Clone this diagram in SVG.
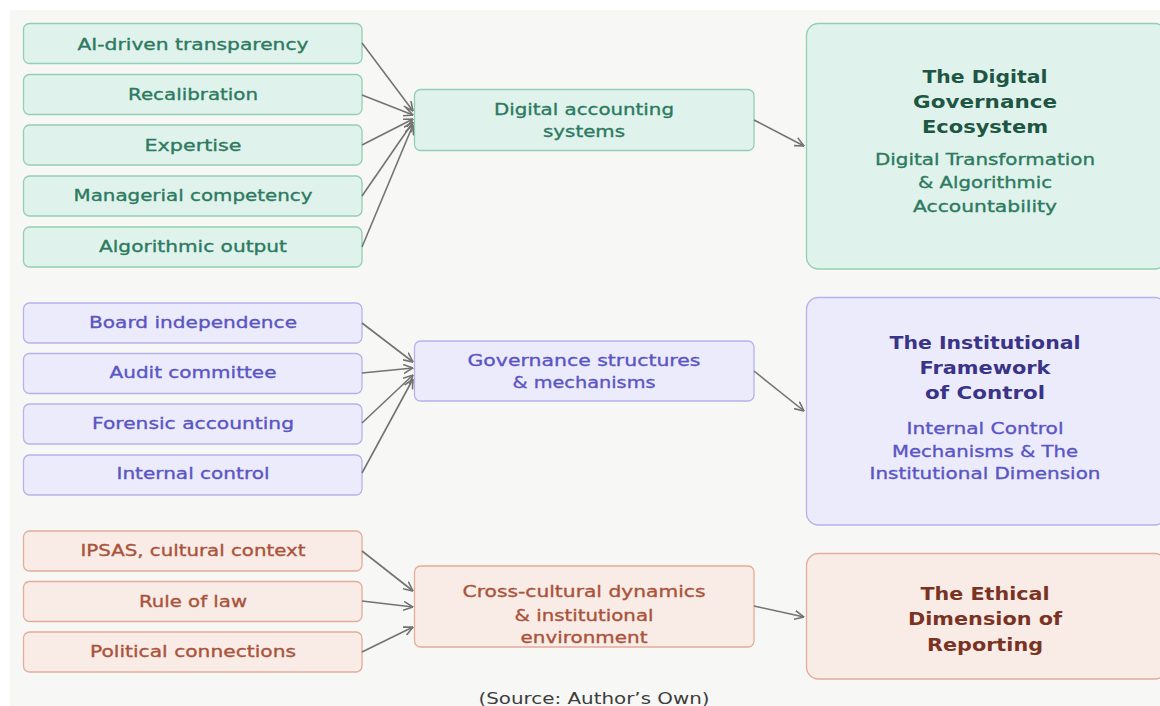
<svg xmlns="http://www.w3.org/2000/svg" width="1160" height="706" viewBox="0 0 1160 706">
<defs>
<marker id="ah" viewBox="0 0 10 10" refX="9.5" refY="5" markerWidth="10" markerHeight="10" markerUnits="userSpaceOnUse" orient="auto">
<path d="M0,0.5 L9.5,5 L0,9.5" fill="none" stroke="#737371" stroke-width="1.6"/>
</marker>
<style>
text{font-family:"DejaVu Sans","Liberation Sans",sans-serif;text-anchor:middle}
.lbl{font-size:16.5px;stroke-width:0.35}
.ttl{font-size:18px;font-weight:bold}
.sub{font-size:16.5px;stroke-width:0.35}
.g rect{fill:#e0f2ec;stroke:#93cfb7;stroke-width:1.3}
.g .lbl,.g .sub{fill:#2c7a5f;stroke:#2c7a5f}
.g .ttl{fill:#1d5643}
.p rect{fill:#ecebfb;stroke:#b5b2ee;stroke-width:1.3}
.p .lbl,.p .sub{fill:#5a55c4;stroke:#5a55c4}
.p .ttl{fill:#3a3488}
.o rect{fill:#f9ebe6;stroke:#e2ad9b;stroke-width:1.3}
.o .lbl{fill:#a9533a;stroke:#a9533a}
.o .ttl{fill:#7a3322}
.c line{stroke:#737371;stroke-width:1.6;marker-end:url(#ah)}
.src{font-size:15px;fill:#3d3d3d}
</style>
</defs>
<rect x="0" y="0" width="1160" height="706" fill="#ffffff"/>
<rect x="10" y="10" width="1150" height="696" fill="#f7f7f5"/>

<g id="green-inputs" class="g">
<g id="n-ai"><rect x="23.5" y="23.5" width="338.5" height="40" rx="6"/><text class="lbl" x="193" y="50" textLength="231" lengthAdjust="spacingAndGlyphs">AI-driven transparency</text></g>
<g id="n-recal"><rect x="23.5" y="74.5" width="338.5" height="40" rx="6"/><text class="lbl" x="193" y="100" textLength="130" lengthAdjust="spacingAndGlyphs">Recalibration</text></g>
<g id="n-expertise"><rect x="23.5" y="125" width="338.5" height="40" rx="6"/><text class="lbl" x="193" y="151" textLength="97" lengthAdjust="spacingAndGlyphs">Expertise</text></g>
<g id="n-managerial"><rect x="23.5" y="176" width="338.5" height="40" rx="6"/><text class="lbl" x="193" y="201" textLength="239" lengthAdjust="spacingAndGlyphs">Managerial competency</text></g>
<g id="n-algo"><rect x="23.5" y="227" width="338.5" height="40" rx="6"/><text class="lbl" x="193" y="252" textLength="188" lengthAdjust="spacingAndGlyphs">Algorithmic output</text></g>
</g>
<g id="n-digital-acc" class="g"><rect x="414.5" y="89.5" width="339.5" height="61" rx="6"/>
<text class="lbl" x="584" y="115" textLength="180" lengthAdjust="spacingAndGlyphs">Digital accounting</text>
<text class="lbl" x="584" y="137" textLength="82" lengthAdjust="spacingAndGlyphs">systems</text></g>
<g id="n-digital-gov" class="g"><rect x="806.5" y="23.5" width="360" height="245.5" rx="12"/>
<text class="ttl" x="985" y="83" textLength="125" lengthAdjust="spacingAndGlyphs">The Digital</text>
<text class="ttl" x="985" y="108" textLength="144" lengthAdjust="spacingAndGlyphs">Governance</text>
<text class="ttl" x="985" y="133" textLength="126" lengthAdjust="spacingAndGlyphs">Ecosystem</text>
<text class="sub" x="985" y="165" textLength="220" lengthAdjust="spacingAndGlyphs">Digital Transformation</text>
<text class="sub" x="985" y="188" textLength="134" lengthAdjust="spacingAndGlyphs">&amp; Algorithmic</text>
<text class="sub" x="985" y="212" textLength="144" lengthAdjust="spacingAndGlyphs">Accountability</text></g>

<g id="purple-inputs" class="p">
<g id="n-board"><rect x="23.5" y="303" width="338.5" height="40" rx="6"/><text class="lbl" x="193" y="328" textLength="208" lengthAdjust="spacingAndGlyphs">Board independence</text></g>
<g id="n-audit"><rect x="23.5" y="353.5" width="338.5" height="40" rx="6"/><text class="lbl" x="193" y="378" textLength="167" lengthAdjust="spacingAndGlyphs">Audit committee</text></g>
<g id="n-forensic"><rect x="23.5" y="404" width="338.5" height="40" rx="6"/><text class="lbl" x="193" y="429" textLength="202" lengthAdjust="spacingAndGlyphs">Forensic accounting</text></g>
<g id="n-internal"><rect x="23.5" y="455" width="338.5" height="40" rx="6"/><text class="lbl" x="193" y="479" textLength="153" lengthAdjust="spacingAndGlyphs">Internal control</text></g>
</g>
<g id="n-gov-struct" class="p"><rect x="414.5" y="341" width="339.5" height="60" rx="6"/>
<text class="lbl" x="584" y="366" textLength="233" lengthAdjust="spacingAndGlyphs">Governance structures</text>
<text class="lbl" x="584" y="388" textLength="143" lengthAdjust="spacingAndGlyphs">&amp; mechanisms</text></g>
<g id="n-institutional" class="p"><rect x="806.5" y="297.5" width="360" height="227.5" rx="12"/>
<text class="ttl" x="985" y="349" textLength="191" lengthAdjust="spacingAndGlyphs">The Institutional</text>
<text class="ttl" x="985" y="374" textLength="131" lengthAdjust="spacingAndGlyphs">Framework</text>
<text class="ttl" x="985" y="399" textLength="120" lengthAdjust="spacingAndGlyphs">of Control</text>
<text class="sub" x="985" y="434" textLength="157" lengthAdjust="spacingAndGlyphs">Internal Control</text>
<text class="sub" x="985" y="457" textLength="186" lengthAdjust="spacingAndGlyphs">Mechanisms &amp; The</text>
<text class="sub" x="985" y="479" textLength="231" lengthAdjust="spacingAndGlyphs">Institutional Dimension</text></g>

<g id="orange-inputs" class="o">
<g id="n-ipsas"><rect x="23.5" y="531" width="338.5" height="40" rx="6"/><text class="lbl" x="193" y="556" textLength="225" lengthAdjust="spacingAndGlyphs">IPSAS, cultural context</text></g>
<g id="n-rule"><rect x="23.5" y="581.5" width="338.5" height="40" rx="6"/><text class="lbl" x="193" y="607" textLength="108" lengthAdjust="spacingAndGlyphs">Rule of law</text></g>
<g id="n-political"><rect x="23.5" y="632" width="338.5" height="40" rx="6"/><text class="lbl" x="193" y="657" textLength="206" lengthAdjust="spacingAndGlyphs">Political connections</text></g>
</g>
<g id="n-crosscult" class="o"><rect x="414.5" y="566" width="339.5" height="81" rx="6"/>
<text class="lbl" x="584" y="597" textLength="243" lengthAdjust="spacingAndGlyphs">Cross-cultural dynamics</text>
<text class="lbl" x="584" y="621" textLength="139" lengthAdjust="spacingAndGlyphs">&amp; institutional</text>
<text class="lbl" x="584" y="643" textLength="127" lengthAdjust="spacingAndGlyphs">environment</text></g>
<g id="n-ethical" class="o"><rect x="806.5" y="553.5" width="360" height="125.5" rx="12"/>
<text class="ttl" x="985" y="600" textLength="129" lengthAdjust="spacingAndGlyphs">The Ethical</text>
<text class="ttl" x="985" y="625" textLength="154" lengthAdjust="spacingAndGlyphs">Dimension of</text>
<text class="ttl" x="985" y="651" textLength="116" lengthAdjust="spacingAndGlyphs">Reporting</text></g>

<g id="connectors" class="c">
<line x1="362" y1="43" x2="413" y2="111"/>
<line x1="362" y1="95" x2="413" y2="115"/>
<line x1="362" y1="145" x2="413" y2="119"/>
<line x1="362" y1="196" x2="413" y2="122"/>
<line x1="362" y1="247" x2="413" y2="125"/>
<line x1="754" y1="120" x2="804" y2="146"/>
<line x1="362" y1="323" x2="413" y2="362"/>
<line x1="362" y1="373" x2="413" y2="368"/>
<line x1="362" y1="423" x2="413" y2="375"/>
<line x1="362" y1="473" x2="413" y2="379"/>
<line x1="754" y1="371" x2="804" y2="411"/>
<line x1="362" y1="551" x2="413" y2="591"/>
<line x1="362" y1="601" x2="413" y2="607"/>
<line x1="362" y1="652" x2="413" y2="627"/>
<line x1="754" y1="606" x2="804" y2="617"/>
</g>

<text class="src" x="594" y="704" textLength="231" lengthAdjust="spacingAndGlyphs">(Source: Author’s Own)</text>
</svg>
